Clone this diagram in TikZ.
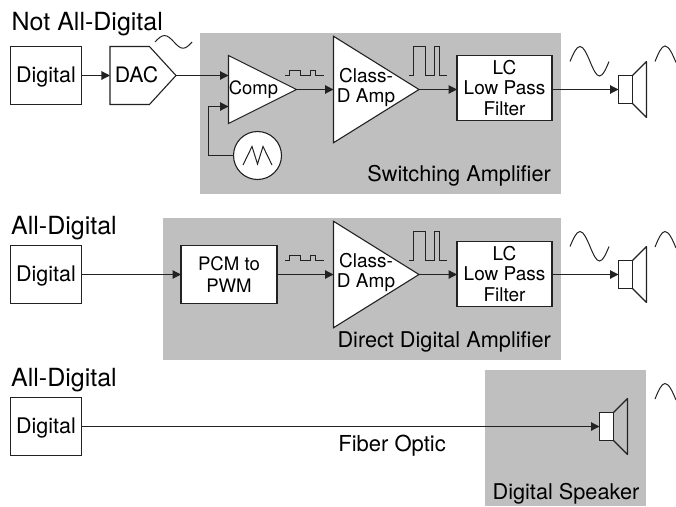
\documentclass[tikz,border=0pt]{standalone}
\usepackage{fontspec}
\setmainfont{TeX Gyre Heros}
\usetikzlibrary{shapes.geometric, shapes.symbols, arrows.meta, positioning}
\definecolor{amp_gray}{HTML}{BFBFBF}
\definecolor{line_ink}{HTML}{222222}
\tikzset{
  heading/.style={anchor=base west, inner sep=0pt, font=\fontsize{25}{27}\selectfont},
  caption_text/.style={anchor=base east, inner sep=0pt, font=\fontsize{21.7}{24}\selectfont},
  amp_box/.style={anchor=north west, fill=amp_gray, inner sep=0pt},
  digital_box/.style={rectangle, draw=line_ink, fill=white, line width=1.1pt, inner sep=0pt, outer sep=0pt, minimum width=71pt, minimum height=58pt, text depth=1.5pt, font=\fontsize{21.5}{24}\selectfont},
  filter_box/.style={rectangle, draw=line_ink, fill=white, line width=1.1pt, inner sep=0pt, outer sep=0pt, minimum width=95pt, minimum height=65pt, align=center, font=\fontsize{19}{20.5}\selectfont},
  pcm_box/.style={filter_box, minimum width=96pt, minimum height=58pt, font=\fontsize{18.6}{22.5}\selectfont},
  dac_shape/.style={signal, signal to=east, signal pointer angle=95, draw=line_ink, fill=white, line width=1.1pt, inner sep=0pt, outer sep=0pt, minimum width=66pt, minimum height=58pt},
  triangle/.style={isosceles triangle, isosceles triangle stretches, draw=line_ink, fill=white, line width=1.1pt, inner sep=0pt, outer sep=0pt, anchor=lower side},
  tri_text/.style={inner sep=0pt, align=center, font=\fontsize{19}{20}\selectfont},
  osc_circle/.style={circle, draw=line_ink, fill=white, line width=1.1pt, inner sep=0pt, outer sep=0pt, minimum size=48pt},
  speaker_box/.style={rectangle, draw=line_ink, fill=white, line width=1.1pt, inner sep=0pt, outer sep=0pt, minimum width=14pt, minimum height=28pt},
  cone/.style={line_ink, line width=1.1pt, line join=round},
  arrow/.style={-{Triangle[length=8.5pt,width=8.5pt]}, line_ink, line width=1.1pt},
  wave/.style={line_ink, line width=1pt},
  sine_wave/.pic={\draw [wave] (0,0) sin (10,-15) cos (20,0) sin (29.5,14.5) cos (39,0);},
  half_wave/.pic={\draw [wave] (0,0) sin (10,-15.5) cos (21,1);},
  pulse_big/.pic={\draw [wave] (0,0) -- (4,0) -- (4,-29) -- (16,-29) -- (16,0) -- (25,0) -- (25,-29) -- (30,-29) -- (30,0) -- (38,0);},
  pulse_small/.pic={\draw [wave] (0,0) -- (4,0) -- (4,-5.5) -- (15,-5.5) -- (15,0) -- (25,0) -- (25,-5.5) -- (30,-5.5) -- (30,0) -- (39,0);}
}

\begin{document}
\begin{tikzpicture}[x=1pt, y=-1pt]
\useasboundingbox (0,0) rectangle (676,506);

    % Gray boxes
    \node (switching_box) [amp_box, minimum width=361pt, minimum height=161pt] at (200,32.3) {};
    \node (direct_box) [amp_box, minimum width=398.7pt, minimum height=142.7pt] at (162.3,217.3) {};
    \node (speaker_area) [amp_box, minimum width=161pt, minimum height=136.7pt] at (485,369.3) {};

    % Headings
    \node (head_a) [heading] at (11.5,30.5) {Not All-Digital};
    \node (head_b) [heading] at (11,234) {All-Digital};
    \node (head_c) [heading] at (11,386) {All-Digital};

    % Parts shared by the two amplifier rows
    \foreach \r/\y/\f in {a/89.5/88, b/274.5/274} {
        \node (amp_\r) [triangle, minimum width=106.5pt, minimum height=85.5pt] at (333.5,\y) {};
        \node (amp_text_\r) [tri_text] at (366,{\y-2.5}) {Class-\\D Amp};
        \node (filter_\r) [filter_box] at (504.5,\f) {LC\\Low Pass\\Filter};
        \node (spk_\r) [speaker_box] at (625.5,\y) {};
        \draw [arrow] (amp_\r.apex) -- (filter_\r.west |- amp_\r.apex);
        \draw [arrow] (filter_\r.east |- spk_\r) -- (spk_\r);
        \pic at (570,{\y-28}) {sine_wave};
        \pic at (409,{\y-14}) {pulse_big};
        \pic at (285,{\y-14}) {pulse_small};
    }

    % Not all-digital
    \node (digital_a) [digital_box] at (46,75.5) {Digital};
    \node (dac) [dac_shape, right=28.5pt of digital_a] {};
    \node (dac_text) [inner sep=0pt, font=\fontsize{21.3}{24}\selectfont] at (136.5,75) {DAC};
    \node (comp) [triangle, minimum width=68pt, minimum height=68pt] at (228.5,89.5) {};
    \node (comp_text) [tri_text, font=\fontsize{18.4}{20}\selectfont] at (253.5,90) {Comp};
    \node (osc) [osc_circle] at (257.5,155.5) {};
    \coordinate (comp_in) at (comp.lower side |- dac.east);
    \coordinate (comp_ref) at (228.5,106.5);
    \draw [arrow] (digital_a) -- (dac);
    \draw [arrow] (dac.east) -- (comp_in);
    \draw [arrow] (osc.west) -| (208.5,106.5) -- (comp_ref);
    \draw [arrow] (comp.apex) -- (amp_a.lower side);
    \draw [wave] (243,165) -- (252,146.5) -- (257.5,164) -- (263,146.5) -- (272,165);
    \pic [xscale=0.95, yscale=0.43] at (155,42) {sine_wave};
    \node (switching_text) [caption_text] at (551,181) {Switching Amplifier};

    % All-digital, with amplifier
    \node (digital_b) [digital_box, below=141pt of digital_a] {Digital};
    \node (pcm) [pcm_box, right=99.5pt of digital_b] {PCM to\\PWM};
    \draw [arrow] (digital_b) -- (pcm);
    \draw [arrow] (pcm) -- (amp_b.lower side);
    \node (direct_text) [caption_text] at (551,347.7) {Direct Digital Amplifier};

    % All-digital, with speaker
    \node (digital_c) [digital_box, below=94pt of digital_b] {Digital};
    \node (spk_c) [speaker_box] at (606.5,426.5) {};
    \draw [arrow] (digital_c) -- (spk_c);
    \node (fiber_text) [caption_text, font=\fontsize{22}{24}\selectfont] at (446,451.7) {Fiber Optic};
    \node (speaker_text) [caption_text] at (639.5,499) {Digital Speaker};

    % Speaker cones
    \foreach \s in {spk_a, spk_b, spk_c} {
        \draw [cone] (\s.north east) -- ++(14,-14) -- ++(0,56) -- (\s.south east);
    }
    \pic at (655,61.5) {half_wave};
    \pic at (655,247) {half_wave};
    \pic at (655,399) {half_wave};
\end{tikzpicture}
\end{document}
